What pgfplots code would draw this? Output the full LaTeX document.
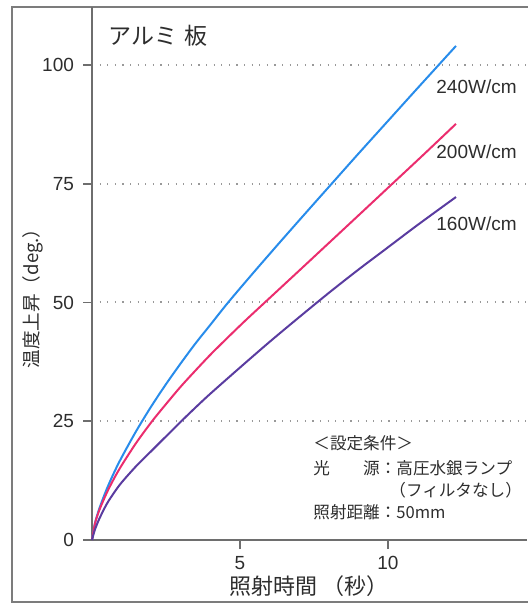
\documentclass[border=0pt]{standalone}
\usepackage{pgfplots}
\pgfplotsset{compat=1.18}
\usepackage{fontspec}
\setmainfont{Liberation Sans}
\newfontfamily\jp{Noto Sans CJK JP}
\definecolor{cblue}{RGB}{40,140,235}
\definecolor{cpink}{RGB}{235,45,110}
\definecolor{cpurple}{RGB}{90,60,160}
\definecolor{txt}{RGB}{45,45,45}
\definecolor{axgray}{RGB}{110,110,110}
\begin{document}
\begin{tikzpicture}
\useasboundingbox (0,0) rectangle (263.5pt,304pt);
% outer frame
\draw[axgray!90, line width=1pt] (270pt,300.5pt) -- (6pt,300.5pt) -- (6pt,3pt) -- (270pt,3pt);
\begin{axis}[
  at={(46pt,34pt)}, anchor=south west,
  scale only axis, width=217.5pt, height=266.5pt,
  xmin=0, xmax=14.7, ymin=0, ymax=112.2,
  axis x line*=bottom, axis y line*=left,
  axis line style={axgray, line width=1pt},
  xtick={5,10}, ytick={0,25,50,75,100},
  tick style={axgray, line width=0.8pt},
  major tick length=4.5pt,
  tick align=outside,
  ymajorgrids,
  major grid style={gray!80, line width=1pt, dash pattern=on 0.6pt off 3.2pt},
  /pgf/number format/assume math mode=true,
  ticklabel style={font=\fontsize{9.5}{11}\selectfont, text=txt},
  yticklabel style={xshift=-1pt},
  clip=false,
]
\addplot[cblue, line width=1pt, smooth] coordinates {
(0,0) (0.1,3.5) (0.25,6.66) (0.5,10.76) (0.75,14.25) (1,17.38) (1.5,23.0) (2,28.1) (2.5,32.8) (3,37.2) (3.5,41.4) (4,45.3) (4.6,50) (5.5,56.6) (6.5,63.75) (7.5,70.8) (8.15,75.35) (9,81.3) (10,88.2) (11,95.1) (12.3,104.0)
};
\addplot[cpink, line width=1pt, smooth] coordinates {
(0,0) (0.1,3.47) (0.25,6.33) (0.5,9.95) (0.75,13.0) (1,15.7) (1.5,20.5) (2.03,25) (2.5,28.6) (3,32.3) (3.5,35.7) (4,39.0) (4.6,42.7) (5.2,46.3) (5.84,50) (7,56.7) (8,62.5) (9,68.3) (10.1,74.7) (11.2,81.1) (12.3,87.6)
};
\addplot[cpurple, line width=1pt, smooth] coordinates {
(0,0) (0.1,2.2) (0.25,4.5) (0.5,7.6) (0.75,10.0) (1,12.1) (1.5,15.6) (2,18.7) (2.5,21.8) (3,24.9) (3.5,27.9) (4,30.8) (5,36.3) (6,41.7) (7,46.9) (8,52.0) (9,56.9) (10,61.6) (11,66.3) (12.3,72.2)
};
\end{axis}
% texts
\node[anchor=west, text=txt, inner sep=0pt] at (54pt,286pt) {\jp\fontsize{11.5}{13}\selectfont アルミ\hspace{0.3em}板};
\node[anchor=west, text=txt, inner sep=0pt, font=\fontsize{9.5}{11}\selectfont] at (218pt,260.5pt) {240W/cm};
\node[anchor=west, text=txt, inner sep=0pt, font=\fontsize{9.5}{11}\selectfont] at (218pt,228pt) {200W/cm};
\node[anchor=west, text=txt, inner sep=0pt, font=\fontsize{9.5}{11}\selectfont] at (218pt,192pt) {160W/cm};
\node[anchor=west, text=txt, inner sep=0pt] at (156.5pt,82.5pt) {\jp\fontsize{8.3}{10}\selectfont ＜設定条件＞};
\node[anchor=west, text=txt, inner sep=0pt] at (156.5pt,70pt) {\jp\fontsize{8.3}{10}\selectfont 光　　源：高圧水銀ランプ};
\node[anchor=west, text=txt, inner sep=0pt] at (194.5pt,59pt) {\jp\fontsize{8.3}{10}\selectfont （フィルタなし）};
\node[anchor=west, text=txt, inner sep=0pt] at (156.5pt,48pt) {\jp\fontsize{8.3}{10}\selectfont 照射距離：50mm};
\node[text=txt, inner sep=0pt] at (154.5pt,11pt) {\jp\fontsize{11}{13}\selectfont 照射時間\hspace{0.2em}（秒）};
\node[text=txt, inner sep=0pt, rotate=90] at (16.5pt,157pt) {\jp\fontsize{9.3}{11}\selectfont 温度上昇（deg.）};
\end{tikzpicture}
\end{document}
